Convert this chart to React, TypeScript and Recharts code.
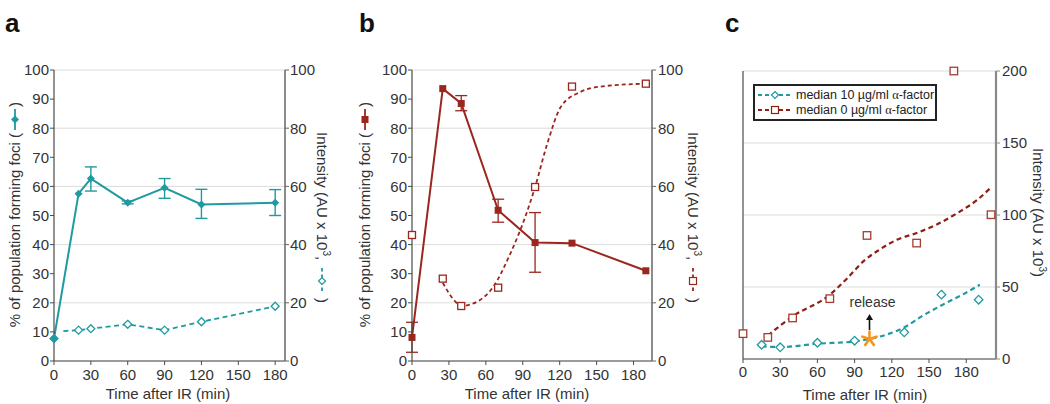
import React from 'react';
import { ComposedChart, Line, Scatter, XAxis, YAxis, CartesianGrid, ErrorBar, Legend, ReferenceDot } from 'recharts';

const FONT = '"Liberation Sans", Arial, Helvetica, sans-serif';
const TEAL = '#1f9aa0';
const RED = '#9a271f';
const RED_C = '#8e1f12';
const RED_C_MARK = '#a53b31';
const ORANGE = '#f7941d';
const TEXT = '#333';
const AXIS = '#4a4a4a';

// panel a: % of cells with foci (solid) and intensity (dashed)
const aTime = [0, 20, 30, 60, 90, 120, 180];
const aFoci = [7.7, 57.5, 62.7, 54.4, 59.5, 53.8, 54.4];
const aFociLow = [null, null, 58.4, 54.0, 55.9, 49.0, 50.0];
const aFociHigh = [null, null, 66.7, 55.0, 62.7, 59.0, 58.9];
const aIntensity = [7.7, 10.6, 11.1, 12.6, 10.6, 13.5, 18.8];
const aDashStart = { time: 7.6, value: 10.3 };

// panel b
const bTime = [0, 25, 40, 70, 100, 130, 190];
const bFoci = [8.1, 93.6, 88.5, 51.8, 40.7, 40.5, 31.0];
const bFociLow = [3.0, null, 86.0, 47.7, 30.5, null, null];
const bFociHigh = [13.3, null, 91.2, 55.6, 51.0, null, null];
const bIntensity = [43.3, 28.3, 18.9, 25.2, 59.8, 94.3, 95.3];
// dashed fit curve
const bFitTime = [25, 34, 40, 53, 66, 80, 93, 100, 110, 121, 137, 153, 190];
const bFit = [26.9, 21.0, 18.9, 20.4, 25.5, 37.0, 50.7, 59.8, 74.8, 87.4, 92.5, 94.3, 95.3];

// panel c
const cTime10 = [15, 30, 60, 90, 130, 160, 190];
const c10 = [9.9, 8.1, 11.3, 12.7, 18.5, 44.7, 41.2];
const cTime0 = [0, 20, 40, 70, 100, 140, 170, 200];
const c0 = [17.6, 15.0, 28.5, 41.9, 85.8, 80.5, 200, 100.2];
const cFit10Time = [15, 30, 60, 90, 102, 118, 129, 145, 161, 177, 191];
const cFit10 = [8.8, 8.3, 10.6, 12.2, 13.9, 17.6, 21.5, 30.1, 37.7, 44.7, 51.6];
const cFit0Time = [20, 40, 70, 84, 97, 110, 124, 140, 156, 172, 189, 200];
const cFit0 = [16.3, 29.6, 44.6, 56.0, 67.8, 75.9, 82.8, 87.5, 93.3, 100.9, 110.6, 119.2];
const cReleaseTime = 102;
const cReleaseValue = 13.9;

const xTicks = [0, 30, 60, 90, 120, 150, 180];
const pctTicks = [0, 10, 20, 30, 40, 50, 60, 70, 80, 90, 100];
const intTicks = [0, 20, 40, 60, 80, 100];
const cTicks = [0, 50, 100, 150, 200];

const pts = (xs: number[], ys: (number | null)[]) => xs.map((x, i) => ({ x, y: ys[i] }));
const withErr = (xs: number[], ys: number[], lo: (number | null)[], hi: (number | null)[]) =>
  xs.map((x, i) => ({
    x,
    y: ys[i],
    err: lo[i] == null ? undefined : [ys[i] - (lo[i] as number), (hi[i] as number) - ys[i]],
  }));

const diamondPath = (cx: number, cy: number, r: number) =>
  `M${cx},${cy - r}L${cx + r},${cy}L${cx},${cy + r}L${cx - r},${cy}Z`;

const tickStyle = { fill: TEXT, fontSize: 15, fontFamily: FONT };

const FilledDiamond = (p: any) => <path key={p.index} d={diamondPath(p.cx, p.cy, 4)} fill={TEAL} />;
const OpenDiamond = (color: string, r: number) => (p: any) =>
  <path d={diamondPath(p.cx, p.cy, r)} fill="#fff" stroke={color} strokeWidth={1.3} />;
const FilledSquare = (p: any) => <rect key={p.index} x={p.cx - 3.5} y={p.cy - 3.5} width={7} height={7} fill={RED} />;
const OpenSquare = (color: string, s: number) => (p: any) =>
  <rect x={p.cx - s / 2} y={p.cy - s / 2} width={s} height={s} fill="#fff" stroke={color} strokeWidth={1.3} />;

const Star = (p: any) => {
  const r = 7.5;
  const arms = [-90, -18, 54, 126, 198].map((a) => (a * Math.PI) / 180);
  return (
    <g>
      {arms.map((a, i) => (
        <line key={i} x1={p.cx} y1={p.cy} x2={p.cx + r * Math.cos(a)} y2={p.cy + r * Math.sin(a)}
          stroke={ORANGE} strokeWidth={2.6} strokeLinecap="round" />
      ))}
    </g>
  );
};

const ReleaseMark = (p: any) => (
  <g>
    <line x1={p.cx} y1={p.cy - 9} x2={p.cx} y2={p.cy - 21} stroke="#111" strokeWidth={1.6} />
    <path d={`M${p.cx - 3.5},${p.cy - 19}L${p.cx},${p.cy - 25}L${p.cx + 3.5},${p.cy - 19}Z`} fill="#111" />
    <text x={p.cx + 3} y={p.cy - 32} textAnchor="middle" fontSize={14} fill={TEXT} fontFamily={FONT}>release</text>
  </g>
);

const LegendC = () => {
  const row = (color: string, marker: 'diamond' | 'square', label: string) => (
    <div style={{ display: 'flex', alignItems: 'center', height: 14.5, whiteSpace: 'nowrap' }}>
      <svg width={36} height={12} style={{ marginRight: 3, flex: 'none' }}>
        <line x1={1} x2={35} y1={6} y2={6} stroke={color} strokeWidth={2} strokeDasharray="4 3" />
        {marker === 'diamond'
          ? <path d={diamondPath(18, 6, 3.5)} fill="#fff" stroke={color} strokeWidth={1.2} />
          : <rect x={14.5} y={2.5} width={7} height={7} fill="#fff" stroke={color} strokeWidth={1.2} />}
      </svg>
      <span>{label}<span style={{ fontFamily: '"Liberation Serif", "DejaVu Serif", serif' }}>α</span>-factor</span>
    </div>
  );
  return (
    <div style={{ border: '2px solid #222', background: '#fff', padding: '2px 4px 2px 2px', fontSize: 12.5,
      color: '#222', fontFamily: FONT, width: 184, boxSizing: 'border-box', lineHeight: '14px' }}>
      {row(TEAL, 'diamond', 'median 10 µg/ml ')}
      {row(RED_C, 'square', 'median 0 µg/ml ')}
    </div>
  );
};

// rotated axis titles with the small series glyph inside the parentheses
const LeftTitle = ({ x, y, color, marker }: any) => (
  <g transform={`translate(${x},${y}) rotate(-90)`}>
    <text x={195} y={0} textAnchor="end" fontSize={15} fill={TEXT} fontFamily={FONT}>% of population forming foci (</text>
    <line x1={198} x2={219} y1={-5} y2={-5} stroke={color} strokeWidth={1.8} />
    {marker === 'diamond'
      ? <path d={diamondPath(208.5, -5, 4)} fill={color} />
      : <rect x={205} y={-8.5} width={7} height={7} fill={color} />}
    <text x={221} y={0} fontSize={15} fill={TEXT} fontFamily={FONT}>)</text>
  </g>
);

const RightTitle = ({ x, y, color, marker }: any) => (
  <g transform={`translate(${x},${y}) rotate(90)`}>
    <text x={0} y={0} fontSize={15} fill={TEXT} fontFamily={FONT}>
      Intensity (AU x 10<tspan fontSize={10} dy={-6}>3</tspan><tspan dy={6}>,</tspan>
    </text>
    <line x1={136} x2={162} y1={-5} y2={-5} stroke={color} strokeWidth={1.8} strokeDasharray="3.5 3" />
    {marker === 'diamond'
      ? <path d={diamondPath(149, -5, 3.5)} fill="#fff" stroke={color} strokeWidth={1.2} />
      : <rect x={145.5} y={-8.5} width={7} height={7} fill="#fff" stroke={color} strokeWidth={1.2} />}
    <text x={166} y={0} fontSize={15} fill={TEXT} fontFamily={FONT}>)</text>
  </g>
);

const PanelA = () => {
  const foci = withErr(aTime, aFoci, aFociLow, aFociHigh);
  const dash = [{ x: aDashStart.time, y: aDashStart.value }, ...pts(aTime.slice(1), aIntensity.slice(1))];
  const marks = pts(aTime, aIntensity);
  return (
    <ComposedChart width={340} height={404} margin={{ top: 70, right: 15, bottom: 13, left: 14 }}>
      <CartesianGrid yAxisId="right" vertical={false} stroke="#dcdcdc" />
      <XAxis type="number" dataKey="x" domain={[0, 188]} ticks={xTicks} interval={0} height={30}
        tickSize={4} tickMargin={4} tick={tickStyle} axisLine={{ stroke: AXIS, strokeWidth: 1.2 }} tickLine={{ stroke: AXIS }} />
      <YAxis yAxisId="left" domain={[0, 100]} ticks={pctTicks} interval={0} width={40} tickSize={4} tickMargin={1}
        tick={tickStyle} axisLine={{ stroke: AXIS, strokeWidth: 1.2 }} tickLine={{ stroke: AXIS }} />
      <YAxis yAxisId="right" orientation="right" domain={[0, 100]} ticks={intTicks} interval={0} width={40}
        tickSize={4} tickMargin={1} tick={tickStyle} axisLine={{ stroke: '#666', strokeWidth: 1.5 }} tickLine={{ stroke: '#666' }} />
      <Line yAxisId="left" data={foci} dataKey="y" stroke={TEAL} strokeWidth={2} dot={FilledDiamond}
        activeDot={false} isAnimationActive={false}>
        <ErrorBar dataKey="err" direction="y" width={6} stroke={TEAL} strokeWidth={1.4} />
      </Line>
      <Line yAxisId="right" data={dash} dataKey="y" stroke={TEAL} strokeWidth={1.8} strokeDasharray="5 3.5"
        dot={false} activeDot={false} isAnimationActive={false} />
      <Scatter yAxisId="right" data={marks} dataKey="y" shape={OpenDiamond(TEAL, 4)} isAnimationActive={false} />
    </ComposedChart>
  );
};

const PanelB = () => {
  const foci = withErr(bTime, bFoci, bFociLow, bFociHigh);
  return (
    <ComposedChart width={360} height={404} margin={{ top: 70, right: 8, bottom: 13, left: 32 }}>
      <CartesianGrid yAxisId="right" vertical={false} stroke="#dcdcdc" />
      <XAxis type="number" dataKey="x" domain={[0, 195]} ticks={xTicks} interval={0} height={30}
        tickSize={4} tickMargin={4} tick={tickStyle} axisLine={{ stroke: AXIS, strokeWidth: 1.2 }} tickLine={{ stroke: AXIS }} />
      <YAxis yAxisId="left" domain={[0, 100]} ticks={pctTicks} interval={0} width={40} tickSize={4} tickMargin={1}
        tick={tickStyle} axisLine={{ stroke: AXIS, strokeWidth: 1.2 }} tickLine={{ stroke: AXIS }} />
      <YAxis yAxisId="right" orientation="right" domain={[0, 100]} ticks={intTicks} interval={0} width={40}
        tickSize={4} tickMargin={2} tick={tickStyle} axisLine={{ stroke: '#666', strokeWidth: 1.5 }} tickLine={{ stroke: '#666' }} />
      <Line yAxisId="right" data={pts(bFitTime, bFit)} dataKey="y" type="monotone" stroke={RED} strokeWidth={1.8}
        strokeDasharray="4 3" dot={false} activeDot={false} isAnimationActive={false} />
      <Line yAxisId="left" data={foci} dataKey="y" stroke={RED} strokeWidth={2} dot={FilledSquare}
        activeDot={false} isAnimationActive={false}>
        <ErrorBar dataKey="err" direction="y" width={6} stroke={RED} strokeWidth={1.3} />
      </Line>
      <Scatter yAxisId="right" data={pts(bTime, bIntensity)} dataKey="y" shape={OpenSquare(RED, 7)} isAnimationActive={false} />
    </ComposedChart>
  );
};

const PanelC = () => (
  <ComposedChart width={350} height={404} margin={{ top: 71, right: 14, bottom: 15, left: 3 }}>
    <CartesianGrid yAxisId="right" vertical={false} stroke="#dcdcdc" />
    <XAxis type="number" dataKey="x" domain={[0, 204]} ticks={xTicks} interval={0} height={30}
      tickSize={4} tickMargin={3} tick={tickStyle} axisLine={{ stroke: AXIS, strokeWidth: 1.2 }} tickLine={{ stroke: AXIS }} />
    <YAxis yAxisId="left" domain={[0, 200]} ticks={cTicks} interval={0} width={40} tickSize={4}
      tickFormatter={() => ''} axisLine={{ stroke: AXIS, strokeWidth: 1.2 }} tickLine={{ stroke: AXIS }} />
    <YAxis yAxisId="right" orientation="right" domain={[0, 200]} ticks={cTicks} interval={0} width={40}
      tickSize={4} tickMargin={2} tick={tickStyle} axisLine={{ stroke: '#8a8a8a', strokeWidth: 2.2 }} tickLine={{ stroke: '#8a8a8a' }} />
    <Line yAxisId="right" data={pts(cFit0Time, cFit0)} dataKey="y" type="monotone" stroke={RED_C} strokeWidth={2.2}
      strokeDasharray="5 3.5" dot={false} activeDot={false} isAnimationActive={false} />
    <Line yAxisId="right" data={pts(cFit10Time, cFit10)} dataKey="y" type="monotone" stroke={TEAL} strokeWidth={2.2}
      strokeDasharray="5 3.5" dot={false} activeDot={false} isAnimationActive={false} />
    <Scatter yAxisId="right" data={pts(cTime0, c0)} dataKey="y" shape={OpenSquare(RED_C_MARK, 7.5)} isAnimationActive={false} />
    <Scatter yAxisId="right" data={pts(cTime10, c10)} dataKey="y" shape={OpenDiamond(TEAL, 4.3)} isAnimationActive={false} />
    <Scatter yAxisId="right" data={[{ x: cReleaseTime, y: cReleaseValue }]} dataKey="y" shape={Star} isAnimationActive={false} />
    <ReferenceDot yAxisId="right" x={cReleaseTime} y={cReleaseValue} r={0} shape={ReleaseMark} ifOverflow="visible" />
    <Legend layout="horizontal" verticalAlign="middle" content={LegendC}
      wrapperStyle={{ position: 'absolute', left: 53, top: 84, width: 184, height: 36 }} />
  </ComposedChart>
);

export default function App() {
  return (
    <div style={{ position: 'absolute', left: 0, top: 0, width: 1050, height: 404, background: '#fff', fontFamily: FONT }}>
      <div style={{ position: 'absolute', left: 0, top: 0 }}><PanelA /></div>
      <div style={{ position: 'absolute', left: 340, top: 0 }}><PanelB /></div>
      <div style={{ position: 'absolute', left: 700, top: 0 }}><PanelC /></div>
      <svg width={1050} height={404} style={{ position: 'absolute', left: 0, top: 0, pointerEvents: 'none' }}>
        <g fontFamily={FONT} fontWeight="bold" fontSize={26} fill="#111">
          <text x={5} y={32}>a</text>
          <text x={359} y={32}>b</text>
          <text x={725} y={32}>c</text>
        </g>
        <g fontFamily={FONT} fontSize={15} fill={TEXT} textAnchor="middle">
          <text x={168} y={399}>Time after IR (min)</text>
          <text x={527} y={399}>Time after IR (min)</text>
          <text x={865} y={400}>Time after IR (min)</text>
        </g>
        <LeftTitle x={20} y={328} color={TEAL} marker="diamond" />
        <RightTitle x={317} y={132} color={TEAL} marker="diamond" />
        <LeftTitle x={370} y={328} color={RED} marker="square" />
        <RightTitle x={688} y={132} color={RED} marker="square" />
        <g transform="translate(1033,148) rotate(90)">
          <text x={0} y={0} fontSize={15} fill={TEXT} fontFamily={FONT}>
            Intensity (AU x 10<tspan fontSize={10} dy={-6}>3</tspan><tspan dy={6}>)</tspan>
          </text>
        </g>
      </svg>
    </div>
  );
}
